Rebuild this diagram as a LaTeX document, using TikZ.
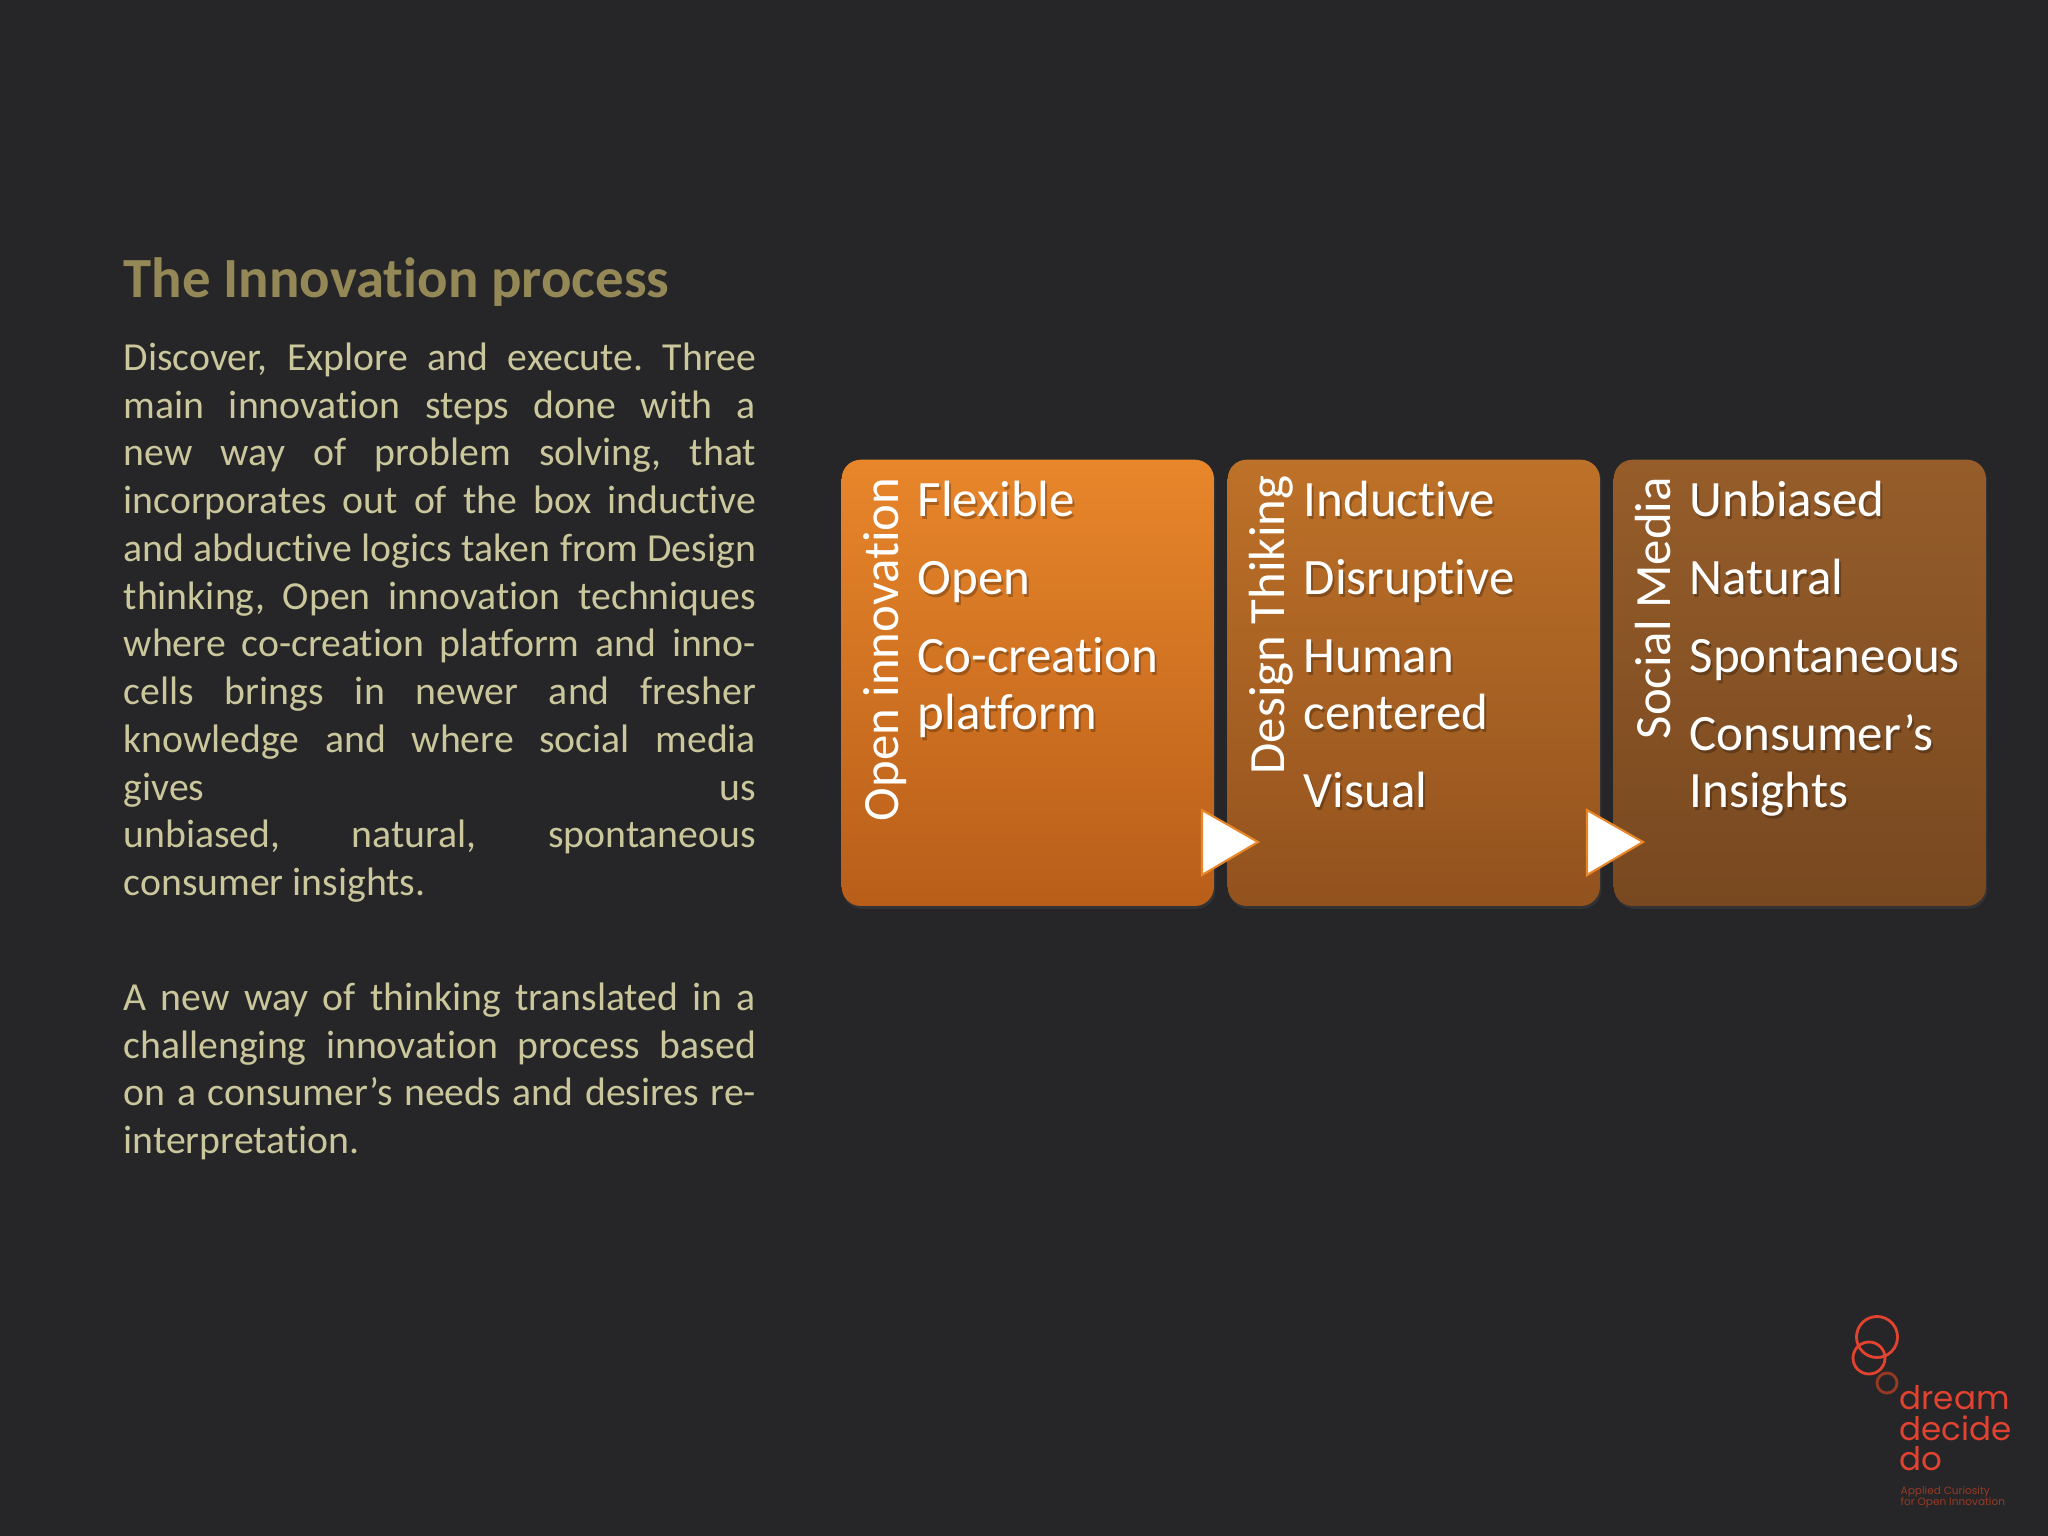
\documentclass[tikz,border=0pt]{standalone}
\usepackage{fontspec}
\setmainfont{Carlito}[Ligatures=NoCommon]
\newfontfamily\logofont{Poppins}
\usetikzlibrary{shadows}
\frenchspacing
\definecolor{BG}{RGB}{38, 38, 40}
\definecolor{T}{RGB}{148, 136, 86}
\definecolor{P}{RGB}{203, 199, 156}
\definecolor{L}{RGB}{226, 66, 48}
\definecolor{LD}{RGB}{150, 58, 36}
\definecolor{O}{RGB}{232, 134, 42}
\definecolor{OB}{RGB}{184, 94, 26}
\definecolor{D}{RGB}{190, 113, 40}
\definecolor{DB}{RGB}{146, 82, 30}
\definecolor{S}{RGB}{150, 93, 42}
\definecolor{SB}{RGB}{120, 72, 32}
\tikzset{
	stepbox/.style={rounded corners=0.19cm, minimum width=3.72cm, minimum height=4.46cm, inner sep=0pt, anchor=north west,
		drop shadow={opacity=0.15, shadow xshift=0.4pt, shadow yshift=-0.8pt}},
	itemtext/.style={anchor=base west, inner sep=0pt, font=\fontsize{14.5pt}{17pt}\selectfont, text=white},
	itemshadow/.style={anchor=base west, inner sep=0pt, font=\fontsize{14.5pt}{17pt}\selectfont, text=black, opacity=0.25},
	sidetext/.style={anchor=base west, inner sep=0pt, rotate=90, font=\fontsize{14.45pt}{17pt}\selectfont, text=white},
	bodytext/.style={anchor=north west, inner sep=0pt, text width=6.32cm, align=justify, text=P, font=\fontsize{11.3pt}{13.58pt}\selectfont},
	nexttri/.style={fill=white, draw=O, line width=0.6pt, line join=miter},
	logoring/.style={draw=L, line width=0.8pt},
	logotext/.style={anchor=base west, inner sep=0pt, text=L, font=\logofont\fontsize{9.25pt}{11pt}\selectfont},
	logosmall/.style={anchor=base west, inner sep=0pt, text=LD, font=\logofont\fontsize{3pt}{3.1pt}\selectfont}
}
\begin{document}
\begin{tikzpicture}[x=0.01cm, y=-0.01cm]
	%# FONDO
	\fill[BG] (0,0) rectangle (2048,1536);

	%# TEXTO IZQUIERDA
	\node[anchor=base west, inner sep=0pt, text=T, font=\fontsize{16.15pt}{19pt}\selectfont\bfseries] (title) at (123,297) {The Innovation process};
	\node[bodytext] (intro) at (123,342) {Discover, Explore and execute. Three\linebreak
		main innovation steps done with a\linebreak
		new way of problem solving, that\linebreak
		incorporates out of the box inductive\linebreak
		and abductive logics taken from Design\linebreak
		thinking, Open innovation techniques\linebreak
		where co-creation platform and inno-\linebreak
		cells brings in newer and fresher\linebreak
		knowledge and where social media\linebreak
		gives us\linebreak
		unbiased, natural, spontaneous\linebreak
		consumer insights.};
	\node[bodytext] (closing) at (123,982) {A new way of thinking translated in a\linebreak
		challenging innovation process based\linebreak
		on a consumer’s needs and desires re-\linebreak
		interpretation.};

	%# CAJAS
	\node[stepbox, top color=O, bottom color=OB] (openbox) at (841,459) {};
	\node[stepbox, top color=D, bottom color=DB] (designbox) at (1227,459) {};
	\node[stepbox, top color=S, bottom color=SB] (socialbox) at (1613,459) {};

	%# TITULOS VERTICALES
	\node[sidetext] (openside) at (898,822) {Open innovation};
	\node[sidetext] (designside) at (1284,775) {Design Thiking};
	\node[sidetext] (socialside) at (1670,740) {Social Media};

	%# ELEMENTOS EN LAS CAJAS
	\foreach \name/\x/\y/\txt in {flex/917/516/Flexible, open/917/594/Open, cocr/917/672/Co-creation, plat/917/729/platform,
		indu/1303/516/Inductive, disr/1303/594/Disruptive, huma/1303/672/Human, cent/1303/729/centered, visu/1303/807/Visual,
		unbi/1689/516/Unbiased, natu/1689/594/Natural, spon/1689/672/Spontaneous, cons/1689/750/Consumer’s, insi/1689/807/Insights}{
		\node[itemshadow] (\name s) at (\x+2,\y+3) {\txt};
		\node[itemtext] (\name) at (\x,\y) {\txt};
	}

	%# FLECHAS
	\coordinate (tria) at (1202,810);
	\coordinate (trib) at (1258,842);
	\coordinate (tric) at (1202,875);
	\draw[nexttri] (tria) -- (trib) -- (tric) -- cycle;
	\coordinate (trid) at (1587,810);
	\coordinate (trie) at (1643,842);
	\coordinate (trif) at (1587,875);
	\draw[nexttri] (trid) -- (trie) -- (trif) -- cycle;

	%# LOGO
	\node[logoring, circle, minimum size=0.41cm, inner sep=0pt] (ringa) at (1877,1337) {};
	\node[logoring, circle, minimum size=0.32cm, inner sep=0pt] (ringb) at (1869,1358) {};
	\node[logoring, draw=LD, circle, minimum size=0.2cm, inner sep=0pt] (ringc) at (1887,1383) {};
	\node[logotext] (dream) at (1899,1409) {dream};
	\node[logotext] (decide) at (1899,1440) {decide};
	\node[logotext] (do) at (1899,1470) {do};
	\node[logosmall] (applied) at (1900,1494) {Applied Curiosity};
	\node[logosmall] (forinno) at (1900,1505) {for Open Innovation};
\end{tikzpicture}
\end{document}
